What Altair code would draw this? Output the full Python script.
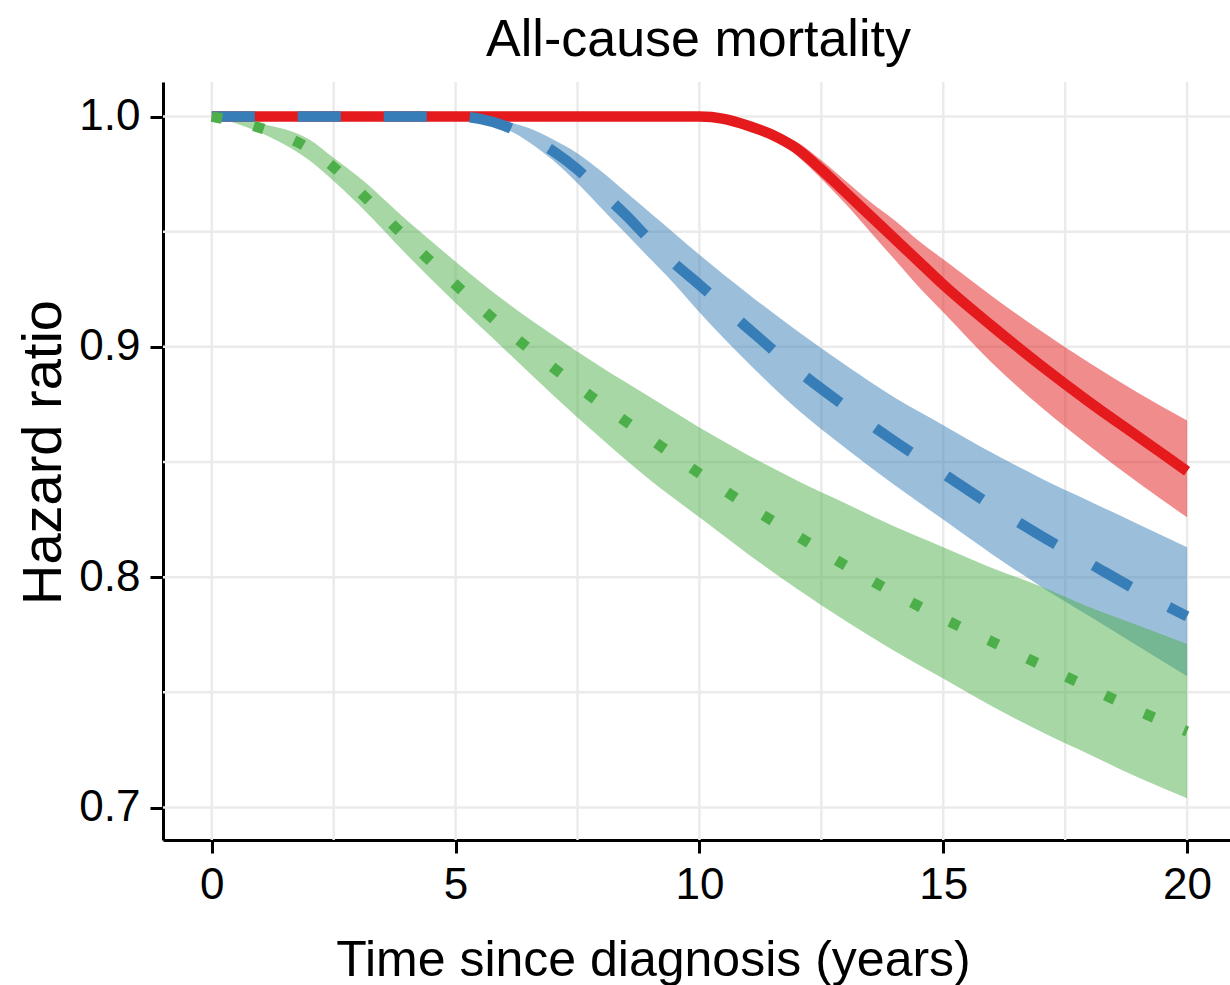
import altair as alt
import pandas as pd

# ---- data ----
red_x = [0, 2, 4, 6, 8, 10, 10.5, 11, 11.5, 12, 12.5, 13, 13.5, 14, 14.5, 15, 16, 17, 18, 19, 20]
red_y = [1.0, 1.0, 1.0, 1.0, 1.0, 1.0, 0.999, 0.996, 0.992, 0.986, 0.977, 0.967, 0.957, 0.947, 0.937, 0.927, 0.909, 0.892, 0.876, 0.861, 0.846]
red_lo = [1.0, 1.0, 1.0, 1.0, 1.0, 1.0, 0.999, 0.996, 0.991, 0.983, 0.973, 0.962, 0.950, 0.938, 0.926, 0.915, 0.893, 0.874, 0.857, 0.841, 0.826]
red_hi = [1.0, 1.0, 1.0, 1.0, 1.0, 1.0, 0.999, 0.996, 0.993, 0.989, 0.981, 0.972, 0.963, 0.955, 0.946, 0.938, 0.922, 0.907, 0.893, 0.880, 0.868]

blue_x = [0, 2, 4, 5, 5.5, 6, 6.5, 7, 7.5, 8, 8.5, 9, 9.5, 10, 11, 12, 13, 14, 15, 16, 17, 18, 19, 20]
blue_y = [1.0, 1.0, 1.0, 1.0, 0.999, 0.996, 0.991, 0.985, 0.977, 0.967, 0.957, 0.946, 0.936, 0.927, 0.908, 0.890, 0.874, 0.859, 0.845, 0.831, 0.818, 0.806, 0.794, 0.783]
blue_lo = [1.0, 1.0, 1.0, 1.0, 0.999, 0.995, 0.989, 0.981, 0.971, 0.960, 0.949, 0.938, 0.927, 0.915, 0.893, 0.873, 0.856, 0.840, 0.825, 0.810, 0.796, 0.783, 0.770, 0.757]
blue_hi = [1.0, 1.0, 1.0, 1.0, 1.0, 0.998, 0.995, 0.990, 0.984, 0.976, 0.967, 0.958, 0.949, 0.940, 0.923, 0.907, 0.892, 0.878, 0.866, 0.854, 0.843, 0.833, 0.823, 0.813]

green_x = [0, 1, 2, 2.5, 3, 4, 5, 6, 7, 8, 9, 10, 11, 12, 13, 14, 15, 16, 17, 18, 19, 20]
green_y = [1.0, 0.995, 0.986, 0.978, 0.968, 0.947, 0.927, 0.908, 0.891, 0.875, 0.860, 0.845, 0.831, 0.818, 0.805, 0.793, 0.782, 0.772, 0.762, 0.752, 0.742, 0.733]
green_lo = [1.0, 0.993, 0.981, 0.972, 0.962, 0.940, 0.919, 0.899, 0.879, 0.860, 0.842, 0.826, 0.810, 0.795, 0.781, 0.768, 0.756, 0.744, 0.733, 0.723, 0.713, 0.704]
green_hi = [1.0, 0.997, 0.990, 0.982, 0.974, 0.955, 0.937, 0.920, 0.905, 0.891, 0.878, 0.865, 0.853, 0.842, 0.832, 0.822, 0.813, 0.804, 0.796, 0.787, 0.779, 0.771]

x_grid = [0, 2.5, 5, 7.5, 10, 12.5, 15, 17.5, 20]
y_grid = [0.70, 0.75, 0.80, 0.85, 0.90, 0.95, 1.00]
x_ticks = [0, 5, 10, 15, 20]
y_ticks = [0.7, 0.8, 0.9, 1.0]

RED, BLUE, GREEN = "#E41A1C", "#377EB8", "#4DAF4A"
FONT = "Liberation Sans"


def frame(xs, ys, lo, hi):
    return pd.DataFrame({"t": xs, "hr": ys, "lo": lo, "hi": hi})


red = frame(red_x, red_y, red_lo, red_hi)
blue = frame(blue_x, blue_y, blue_lo, blue_hi)
green = frame(green_x, green_y, green_lo, green_hi)

xscale = alt.Scale(domain=[-1, 20.88], nice=False, zero=False)
yscale = alt.Scale(domain=[0.6859, 1.015], nice=False, zero=False)

x_axis = alt.Axis(values=x_ticks, title="Time since diagnosis (years)", format="d",
                  titleX=490, titleY=135, titleBaseline="alphabetic", titleFontSize=50)
y_axis = alt.Axis(values=y_ticks, title="Hazard ratio", format=".1f",
                  titleX=-103, titleY=370, titleBaseline="alphabetic", titleAngle=-90,
                  titleFontSize=56)

vgrid = alt.Chart(pd.DataFrame({"g": x_grid})).mark_rule(
    color="#EBEBEB", strokeWidth=2.5).encode(x=alt.X("g:Q", scale=xscale, axis=x_axis))
hgrid = alt.Chart(pd.DataFrame({"g": y_grid})).mark_rule(
    color="#EBEBEB", strokeWidth=2.5).encode(y=alt.Y("g:Q", scale=yscale, axis=y_axis))


def band(df, color):
    return alt.Chart(df).mark_area(color=color, opacity=0.5, interpolate="monotone").encode(
        x=alt.X("t:Q", scale=xscale), y=alt.Y("lo:Q", scale=yscale), y2="hi:Q")


def line(df, color, dash):
    kw = {"strokeDash": dash} if dash else {}
    return alt.Chart(df).mark_line(color=color, strokeWidth=10.5, interpolate="monotone",
                                   strokeCap="butt", **kw).encode(
        x=alt.X("t:Q", scale=xscale), y=alt.Y("hr:Q", scale=yscale))


chart = alt.layer(
    vgrid, hgrid,
    band(red, RED), band(blue, BLUE), band(green, GREEN),
    line(red, RED, None), line(blue, BLUE, [43, 43]), line(green, GREEN, [10.5, 32.5]),
).properties(
    width=1067, height=758,
    background="white",
    title=alt.TitleParams("All-cause mortality", fontSize=52, font=FONT, fontWeight="normal",
                          color="#000000", anchor="middle", baseline="alphabetic", offset=25,
                          dx=2, dy=52),
    autosize=alt.AutoSizeParams(type="none"),
    padding={"left": 163, "top": 82, "right": 0, "bottom": 145},
).configure_view(stroke=None).configure_axis(
    grid=False, domainColor="#000000", domainWidth=3, tickColor="#000000", tickWidth=3,
    tickSize=13, labelFont=FONT, labelFontSize=44, labelColor="#000000", labelPadding=10,
    titleFont=FONT, titleFontWeight="normal", titleColor="#000000",
)

chart.save("out.html", embed_options={"renderer": "svg", "actions": False})
